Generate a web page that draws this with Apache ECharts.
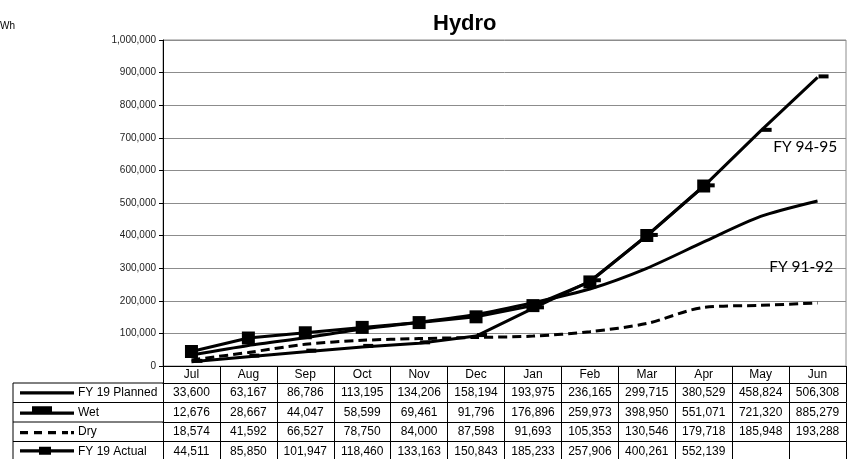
<!DOCTYPE html>
<html>
<head>
<meta charset="utf-8">
<script src="https://cdn.jsdelivr.net/npm/echarts@6/dist/echarts.min.js"></script>
<style>
html,body{margin:0;padding:0;background:#fff;}
#chart{width:852px;height:459px;}
</style>
</head>
<body>
<div id="chart"></div>
<script>
// 数据
var months = ['Jul','Aug','Sep','Oct','Nov','Dec','Jan','Feb','Mar','Apr','May','Jun'];
var fy19Planned = [33600,63167,86786,113195,134206,158194,193975,236165,299715,380529,458824,506308];
var wet = [12676,28667,44047,58599,69461,91796,176896,259973,398950,551071,721320,885279];
var dry = [18574,41592,66527,78750,84000,87598,91693,105353,130546,179718,185948,193288];
var fy19Actual = [44511,85850,101947,118460,133163,150843,185233,257906,400261,552139,null,null];
var seriesNames = ['FY 19 Planned','Wet','Dry','FY 19 Actual'];
var yMax = 1000000, yStep = 100000;

// 布局
var GRID_L = 163, GRID_R = 6, GRID_T = 40, GRID_B = 93;
var HEAD_ROW = 17, ROW = 19.5;
var FONT = 'Liberation Sans, Arial, sans-serif';
var axisY = 459 - GRID_B;

var tableRows = [fy19Planned, wet, dry, fy19Actual];

function fmt(v){
    if(v === null || v === undefined) return '';
    return String(v).replace(/\B(?=(\d{3})+(?!\d))/g, ',');
}
function rowTop(k){
    return k === 0 ? 0 : HEAD_ROW + ROW*(k-1);
}

// 用多条x轴画数据表
var xAxes = [];
for(var k = 0; k <= 5; k++){
    (function(k){
        var h = k === 0 ? HEAD_ROW : ROW;
        xAxes.push({
            type:'category',
            data:months,
            position:'bottom',
            offset:rowTop(k),
            boundaryGap:true,
            axisLine:{show:true,lineStyle:{color:'#000',width:1}},
            axisTick:{show:k<5,interval:0,length:h,lineStyle:{color:'#000',width:1}},
            axisLabel:{
                show:k<5,
                interval:0,
                margin:(h-14)/2,
                fontSize:12,
                lineHeight:14,
                fontFamily:FONT,
                color:'#000',
                formatter:function(v,i){
                    if(k===0) return v;
                    return fmt(tableRows[k-1][i]);
                }
            },
            splitLine:{show:false}
        });
    })(k);
}

// 图例图标 54x12
var BOX = 'M0,0L0.001,0ZM54,12L54.001,12Z';
var icons = {
    'FY 19 Planned':'path://' + BOX + 'M0,4.5L54,4.5L54,7.8L0,7.8Z',
    'Wet':'path://' + BOX + 'M0,5.3L54,5.3L54,8.6L0,8.6ZM12,0L32,0L32,7L12,7Z',
    'Dry':'path://' + BOX + 'M0,5.2L8,5.2L8,8.4L0,8.4ZM14,5.2L22,5.2L22,8.4L14,8.4ZM28,5.2L36,5.2L36,8.4L28,8.4ZM42,5.2L48,5.2L48,8.4L42,8.4ZM51,5.2L54,5.2L54,8.4L51,8.4Z',
    'FY 19 Actual':'path://' + BOX + 'M0,4L54,4L54,7.2L0,7.2ZM19,1.5L31,1.5L31,9.5L19,9.5Z'
};

var chart = echarts.init(document.getElementById('chart'));

var graphics = [
    {type:'text',left:0,top:21,style:{text:'Wh',fontSize:10,fontFamily:FONT,fill:'#000'}}
];
// 图例一列的表格边框
var legendLeft = 13;
for(var r = 1; r <= 5; r++){
    var yy = axisY + rowTop(r);
    graphics.push({type:'line',shape:{x1:legendLeft,y1:yy,x2:GRID_L,y2:yy},style:{stroke:'#000',lineWidth:1}});
}
graphics.push({type:'line',shape:{x1:legendLeft,y1:axisY+rowTop(1),x2:legendLeft,y2:axisY+rowTop(5)},style:{stroke:'#000',lineWidth:1}});

var labelStyle = {show:true,position:'right',fontSize:15.5,fontFamily:'Lato, sans-serif',color:'#000'};

var option = {
    animation:false,
    backgroundColor:'#fff',
    title:{
        text:'Hydro',
        left:428,
        top:8,
        textStyle:{fontSize:22,fontWeight:'bold',fontFamily:FONT,color:'#000'}
    },
    grid:{
        left:GRID_L,right:GRID_R,top:GRID_T,bottom:GRID_B,
        show:true,borderColor:'#8c8c8c',borderWidth:1,
        containLabel:false
    },
    legend:{
        orient:'vertical',
        left:20,
        top:axisY+HEAD_ROW+(ROW-14)/2,
        padding:0,
        itemWidth:54,
        itemHeight:12,
        itemGap:ROW-14,
        symbolKeepAspect:false,
        data:seriesNames.map(function(n){
            return {name:n,icon:icons[n],itemStyle:{color:'#000',borderWidth:0}};
        }),
        textStyle:{fontSize:12,fontFamily:FONT,color:'#000',lineHeight:14,padding:[0,0,0,-1]}
    },
    xAxis:xAxes,
    yAxis:{
        type:'value',
        min:0,
        max:yMax,
        interval:yStep,
        axisLine:{show:true,lineStyle:{color:'#000'}},
        axisTick:{show:true,length:4,lineStyle:{color:'#000'}},
        axisLabel:{
            fontSize:10,fontFamily:FONT,color:'#222',margin:7,
            formatter:function(v){return fmt(v);}
        },
        splitLine:{show:true,lineStyle:{color:'#8c8c8c',width:1}}
    },
    graphic:graphics,
    series:[
        {
            name:'FY 19 Planned',type:'line',data:fy19Planned,
            smooth:0.25,symbol:'none',
            lineStyle:{color:'#000',width:3},itemStyle:{color:'#000'},
            z:3,
            markPoint:{
                symbol:'circle',symbolSize:1,itemStyle:{color:'rgba(0,0,0,0)'},
                data:[{coord:[10,303700],label:Object.assign({formatter:'FY 91-92',distance:8},labelStyle)}]
            }
        },
        {
            name:'Wet',type:'line',data:wet,
            symbol:'rect',symbolSize:[10,4],symbolOffset:[6,-1],
            lineStyle:{color:'#000',width:3},itemStyle:{color:'#000'},
            z:4,
            markPoint:{
                symbol:'circle',symbolSize:1,itemStyle:{color:'rgba(0,0,0,0)'},
                data:[{coord:[10,671800],label:Object.assign({formatter:'FY 94-95',distance:12},labelStyle)}]
            }
        },
        {
            name:'Dry',type:'line',data:dry,
            smooth:0.3,symbol:'none',
            lineStyle:{color:'#000',width:3,type:[9,5]},itemStyle:{color:'#000'},
            z:3
        },
        {
            name:'FY 19 Actual',type:'line',data:fy19Actual,
            symbol:'rect',symbolSize:13,
            lineStyle:{color:'#000',width:3},itemStyle:{color:'#000'},
            z:5
        }
    ]
};
chart.setOption(option);
</script>
</body>
</html>
